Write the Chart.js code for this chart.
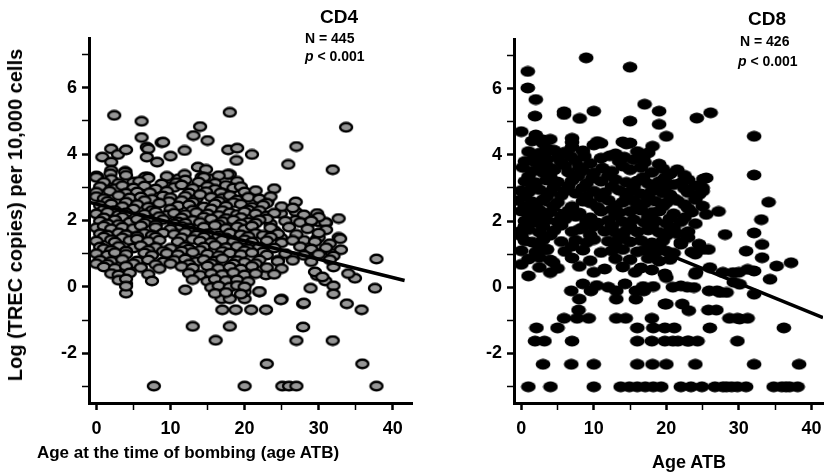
<!DOCTYPE html>
<html><head><meta charset="utf-8">
<script src="https://cdn.jsdelivr.net/npm/chart.js@4/dist/chart.umd.min.js"></script>
<style>
html,body{margin:0;padding:0;background:#fff;width:831px;height:472px;overflow:hidden;}
#wrap{position:relative;width:831px;height:472px;}
canvas{position:absolute;top:0;}
#c1{left:0;}
#c2{left:420px;}
.t{position:absolute;font-family:"Liberation Sans",Arial,sans-serif;font-weight:bold;color:#000;white-space:nowrap;line-height:1;}
</style></head>
<body><div id="wrap">
<canvas id="c1" width="420" height="472"></canvas>
<canvas id="c2" width="411" height="472"></canvas>
<div class="t" style="left:15px;top:215px;font-size:20px;transform:translate(-50%,-50%) rotate(-90deg);">Log (TREC copies) per 10,000 cells</div>
<div class="t" style="left:188px;top:444px;font-size:17px;transform:translateX(-50%);">Age at the time of bombing (age ATB)</div>
<div class="t" style="left:689px;top:453px;font-size:18px;transform:translateX(-50%);">Age ATB</div>
<div class="t" style="left:339px;top:7px;font-size:19px;transform:translateX(-50%);">CD4</div>
<div class="t" style="left:305px;top:31px;font-size:14px;">N = 445</div>
<div class="t" style="left:305px;top:49px;font-size:14px;"><i>p</i> &lt; 0.001</div>
<div class="t" style="left:767px;top:9px;font-size:19px;transform:translateX(-50%);">CD8</div>
<div class="t" style="left:740px;top:34px;font-size:14px;">N = 426</div>
<div class="t" style="left:738px;top:54px;font-size:14px;"><i>p</i> &lt; 0.001</div>
</div>
<script>
// ---- data ----
const xTickValues = [0,5,10,15,20,25,30,35,40];
const xTickLabels = ['0','','10','','20','','30','','40'];
const yTickValues = [-3,-2,-1,0,1,2,3,4,5,6,7];
const yTickLabels = ['','-2','','0','','2','','4','','6',''];

const cd4Fit = [[-1,2.55],[41.6,0.19]];
const cd8Fit = [[-1,2.89],[41.6,-0.92]];

const cd4Points = [
[2.4,5.17],[6.1,4.99],[6.1,4.5],[6.8,4.21],[8.8,4.35],[10,3.94],[11.9,4.11],[13.1,4.56],[14,4.83],[15,4.41],
[18,5.26],[17.8,4.13],[19,4.18],[18.9,3.81],[21,3.99],[25.9,3.69],[27,4.23],[33.7,4.81],[31.9,3.53],[24,2.96],
[26.9,2.56],[32.7,2.06],[30,1.96],[31,1.93],[32.7,1.49],[18,3.39],[0.8,3.91],[2,4.16],[2.9,3.99],[4,4.13],
[2,3.76],[2,3.51],[0,3.34],[3.9,3.48],[6.9,3.31],[7,4.16],[6.8,3.91],[8.2,3.76],[9,4.36],
[0.1,3.31],[1.9,3.41],[2.1,3.16],[3.9,3.46],[5,3.16],[6.6,3.31],[9.9,3.26],[11.1,3.26],[11.9,3.39],[13.7,3.61],
[14.8,3.54],[14.2,3.31],[15.3,3.26],[17.7,3.39],[18.2,3.01],
[21.3,2.76],[23.1,2.58],[24.9,2.21],[26.9,2.26],[29.8,2.21],[30.9,1.94],[28.3,2.01],[28.9,1.96],[26.9,2.01],[23.5,1.9],
[24,1.7],[29.8,1.45],[32.9,1.45],[26.9,1.42],[28,1.4],[24.9,1.48],
[37.8,0.84],[37.6,-0.04],[30,1.49],[34.9,0.26],[35.8,-0.69],[33.8,-0.51],[35.9,-2.32],[37.8,-2.99],[31.9,-1.62],
[28.9,-0.04],[29.8,0.34],[30.9,0.18],[32,0.03],[32,-0.21],[27.9,-0.51],[27.9,-1.21],[27,-1.62],[25,-0.37],
[25.1,-2.99],[26,-2.99],[27,-2.99],[23,-2.32],[20,-2.99],[7.75,-2.99],[13,-1.19],[18,-1.19],[16.1,-1.61],[12,-0.09],
[4,-0.19],[4,0.1],[17,-0.69],[18.8,-0.69],[20.9,-0.69],[22.9,-0.69],[16.9,-0.36],[18,-0.36],[20,-0.36],[22,-0.15],
[22.9,0.36],[20,-0.15],[22,-0.14],[24.9,-0.39],[28,-0.49],[28.5,0.96],[29.8,1.01],[31.8,1.01],[32,0.6],[34,0.4],
[29.5,0.45],[30.5,0.3],[22.9,1.0],[24.5,0.8],[26.5,0.9],
[0,3.3],[2,3.24],[4,3.36],[7,3.28],[9.5,3.33],[12,3.22],[14.5,3.3],[16.5,3.35],
[1,3.15],[3,3.12],[5.8,3.18],[8.8,3.1],[10.8,3.14],[13.8,3.16],[16,3.12],[19,3.18],
[0.5,3.02],[2.5,2.96],[3.5,3.05],[5,2.98],[6.5,3.04],[8,2.95],[10.5,3.0],[11.5,3.07],[13,2.97],[15,3.03],[16,2.94],[17.5,3.06],[18.5,2.98],[19.5,3.02],
[0,2.85],[1.8,2.88],[4,2.82],[5.5,2.86],[7.2,2.84],[9.5,2.88],[12.5,2.83],[14.8,2.87],[16.8,2.84],[20,2.86],[21.5,2.9],
[0,2.72],[1,2.66],[3,2.75],[4.5,2.68],[6,2.71],[7.5,2.64],[9,2.74],[10,2.69],[12,2.73],[13.5,2.65],[14,2.78],[15.5,2.7],[17,2.67],[18,2.75],[19,2.62],[20.5,2.7],[22,2.65],[23.5,2.72],
[1.5,2.58],[4,2.55],[6.5,2.6],[9.8,2.57],[11.5,2.6],[13,2.55],[16.5,2.58],[18.5,2.54],[23,2.52],
[0.5,2.45],[2,2.5],[3.5,2.42],[5.5,2.48],[7,2.4],[8.5,2.52],[11,2.44],[12.5,2.47],[14.5,2.41],[16,2.5],[17.5,2.43],[19.5,2.49],[21,2.4],[22.5,2.46],[25,2.42],[26.5,2.38],
[1,2.33],[2.5,2.3],[5,2.35],[7.5,2.3],[10,2.34],[13,2.31],[15.5,2.35],[17,2.3],[20.5,2.32],[22,2.3],
[0,2.2],[1.5,2.25],[3,2.17],[4,2.23],[6.5,2.19],[8,2.26],[9.5,2.16],[10.5,2.22],[12,2.18],[13.5,2.24],[15,2.2],[16.5,2.15],[18,2.23],[19,2.18],[20,2.26],[21.5,2.2],[23,2.14],[24,2.22],[28,2.17],[30,2.1],
[1,2.08],[3.5,2.1],[6,2.06],[8.5,2.12],[11.5,2.08],[14.5,2.1],[17.5,2.06],[19.5,2.09],[23,2.05],
[0.5,1.98],[2.5,2.02],[4.5,1.95],[5.5,2.04],[7,1.99],[9,2.03],[11,1.96],[13,2.0],[14,1.94],[15.5,2.05],[17,1.97],[18.5,2.01],[20.5,1.95],[22,2.02],[25.5,1.98],[27.5,1.94],[29,1.99],
[1.5,1.9],[3,1.88],[6.5,1.92],[8,1.87],[10.5,1.9],[12,1.92],[16.5,1.88],[19.5,1.9],[21.5,1.92],
[0,1.78],[1,1.83],[2,1.75],[3.5,1.8],[5,1.76],[6,1.84],[8,1.79],[10,1.74],[11.5,1.82],[12.5,1.77],[14.5,1.8],[16,1.85],[17.5,1.76],[19,1.81],[20,1.74],[21,1.83],[23.5,1.78],[26,1.8],[28.5,1.75],[31,1.72],
[0.5,1.6],[1.5,1.56],[3,1.63],[4,1.57],[6.5,1.61],[7.5,1.55],[9,1.62],[10.5,1.58],[12,1.64],[13.5,1.56],[15,1.6],[16.5,1.54],[18,1.62],[19.5,1.57],[21.5,1.61],[22.5,1.55],[24.5,1.6],[27,1.58],[30,1.62],
[1,1.5],[3.5,1.48],[5.5,1.52],[8,1.5],[11.5,1.48],[14.5,1.5],[17.5,1.47],[20.5,1.52],[23.5,1.5],
[0,1.38],[2,1.42],[2.5,1.35],[4.5,1.4],[5.5,1.44],[7,1.37],[8.5,1.41],[11,1.36],[13,1.43],[14,1.38],[15.5,1.34],[17,1.41],[18.5,1.37],[20,1.42],[21,1.35],[23,1.39],[25,1.33],[26.5,1.4],[29.5,1.36],[31.5,1.3],
[0.5,1.2],[1,1.15],[3,1.22],[5,1.17],[6,1.24],[8,1.19],[10,1.16],[12,1.21],[12.5,1.14],[14.5,1.2],[16,1.25],[17.5,1.18],[19,1.22],[20.5,1.15],[22,1.2],[24,1.17],[27.5,1.21],[29,1.14],[31,1.18],[33,1.12],
[2,1.1],[4,1.08],[7,1.1],[9,1.07],[11.5,1.08],[14,1.1],[17,1.07],[20,1.09],[22.5,1.05],
[0,1.0],[1.5,0.96],[2.5,1.03],[4,0.98],[6.5,1.02],[7.5,0.95],[9.5,1.01],[11,0.97],[13,1.04],[15,0.99],[16.5,0.94],[18,1.02],[19.5,0.97],[21,1.03],[23,0.96],[25.5,1.0],[28,0.95],[30,0.98],[32,0.93],
[0.5,0.8],[2,0.77],[3.5,0.83],[5.5,0.78],[7,0.81],[9,0.75],[10.5,0.8],[12,0.84],[13.5,0.76],[14.5,0.82],[16,0.78],[17,0.85],[19,0.79],[20,0.74],[22,0.81],[24.5,0.77],[26.5,0.8],[29,0.76],[31.5,0.82],
[0,0.7],[1.5,0.68],[5,0.7],[8,0.67],[10,0.7],[12.5,0.68],[15.5,0.7],[18.5,0.69],[21.5,0.7],
[1,0.6],[2.5,0.56],[4,0.62],[6,0.58],[8.5,0.55],[11.5,0.61],[13,0.57],[15,0.63],[16.5,0.56],[18,0.6],[19.5,0.54],[21,0.62],[23,0.58],[25,0.55],
[2,0.4],[3,0.36],[4.5,0.42],[7,0.38],[12.5,0.41],[14,0.35],[15.5,0.4],[17,0.37],[18.5,0.43],[20,0.36],[21.5,0.4],[24,0.38],
[3,0.2],[4,0.24],[7.5,0.18],[13,0.22],[15,0.17],[16,0.23],[17.5,0.19],[19,0.21],[20.5,0.16],
[4,0.02],[15.5,-0.02],[16.5,0.03],[18,-0.01],[19,0.04],[20,0.0],
[16,-0.2],[17.5,-0.17],[19.5,-0.22]
];

const cd8Points = [
[8.95,6.93],[15,6.65],[0.9,6.52],[0.9,6.02],[2,5.67],[1.9,5.17],[5.9,5.3],[5.9,5.22],[8.05,5.1],[10,5.32],
[15,5.02],[17,5.53],[19,5.32],[19,4.92],[20,4.56],[24.2,5.11],[26.1,5.27],[32.1,4.56],[32.1,3.39],[34.1,2.57],
[33.1,2.04],[32.1,1.64],[0,4.7],[7,4.5],[7,4.24],[10,4.3],[11,4.35],[14,4.39],[15,4.36],[18.1,4.26],
[8.7,3.96],[25.1,3.27],[25,2.9],[27.2,2.29],[2,4.6],[3,4.45],[3.5,4.2],
[0.98,-3.01],[4.03,-3.01],[10,-3.01],[13.7,-3.01],[14.9,-3.01],[16,-3.01],[17.1,-3.01],[18.2,-3.01],[19.3,-3.01],[22,-3.01],
[23.4,-3.01],[24.9,-3.01],[26.7,-3.01],[27.8,-3.01],[29,-3.01],[29.8,-3.01],[31,-3.01],[34.8,-3.01],[35.9,-3.01],[37,-3.01],
[38.1,-3.01],[28.3,-3.01],[36.5,-3.01],
[3,-2.33],[6.9,-2.33],[10,-2.33],[16,-2.33],[18.1,-2.33],[20,-2.33],[24,-2.33],[32.1,-2.33],[38.3,-2.33],
[1.9,-1.63],[3.2,-1.63],[7,-1.63],[16,-1.63],[18,-1.63],[19.8,-1.63],[20.9,-1.63],[22.9,-1.63],[24.3,-1.63],[29.8,-1.63],[21.6,-1.63],[23.1,-1.63],
[2.1,-1.23],[5,-1.23],[16,-1.23],[18.2,-1.23],[19.8,-1.23],[21.1,-1.23],[26,-1.23],[36.2,-1.23],
[5.9,-0.94],[7.7,-0.94],[9.3,-0.94],[13.1,-0.94],[14.4,-0.94],[18,-0.94],[28.7,-0.94],[29.8,-0.94],[31.2,-0.94],[30.1,-0.96],
[7.9,-0.69],[25.8,-0.69],[26.9,-0.69],[20,-0.51],[22.2,-0.51],[23.1,-0.71],[19.8,-0.51],
[8,-0.36],[13.1,-0.36],[15.8,-0.36],
[6.9,-0.11],[9.6,-0.11],[13.1,-0.11],[15.8,-0.11],[16.9,-0.11],[25.9,-0.11],[27,-0.11],[32.1,-0.21],[27.4,-0.16],[28.3,-0.16],
[8.5,0.1],[10.4,0.05],[12,0.0],[14.3,0.1],[16.8,0.02],[18.2,0.02],[20.9,0.0],[22.9,0.0],[29.3,0.15],[30.1,0.09],[22,0.04],[23.8,-0.01],
[10,0.45],[15.7,0.45],[19.8,0.4],[24.1,0.45],[27.8,0.45],[30,0.45],[29.2,0.44],[24,0.39],
[35.2,0.64],[37.2,0.74],[34.3,0.24],[32.1,0.49],[31,1.09],[33.2,1.29],[33.2,0.89],[28.1,1.59],[25.8,1.14],[24.9,1.14],
[0,0.69],[1,0.34],[4,0.44],[2.5,0.9],[3.5,1.15],[4.4,0.75],[31.2,0.54],[26,0.59],[20,0.29],[22,1.3],[23,1.5],[24,1.0],
[1.5,4.42],[3,4.35],[4,4.47],[7,4.38],[10.5,4.4],[14.5,4.33],
[1,4.1],[2.5,4.05],[4.5,4.14],[6,4.08],[8.5,4.12],[13,4.03],[16,4.1],[17.5,4.06],
[1.8,3.95],[3.2,3.98],[5,3.92],[6.8,3.96],[11,3.9],[12.2,3.97],[14.2,3.93],[16.8,3.9],
[0.5,3.8],[2,3.76],[3.5,3.84],[5.5,3.78],[7.5,3.82],[9.5,3.74],[13.5,3.8],[15.5,3.85],[17,3.77],[19,3.72],
[0.2,3.62],[2.7,3.66],[4,3.6],[6,3.68],[8,3.63],[11.2,3.6],[14,3.66],[16.5,3.62],[19.5,3.58],[21.5,3.55],
[1.5,3.5],[3,3.46],[4.5,3.54],[6.5,3.48],[8.5,3.52],[10,3.45],[12.5,3.5],[15,3.55],[18,3.47],[20.5,3.42],[22.5,3.38],[25.5,3.3],
[1,3.35],[4,3.33],[7.8,3.36],[9.8,3.3],[12,3.37],[16.8,3.32],[19.8,3.3],[23,3.25],
[0.5,3.2],[2,3.16],[3.5,3.24],[5,3.18],[7,3.22],[9,3.14],[11,3.2],[13,3.25],[14.5,3.17],[16,3.21],[17.5,3.13],[19,3.19],[21,3.1],[22,3.15],[24,3.06],[25,3.0],
[1.5,3.05],[4.5,3.02],[6.5,3.06],[8.5,3.0],[12.5,3.04],[15.5,3.03],[18.5,3.0],[20,3.05],[22.5,2.98],
[0,2.92],[1,2.87],[2.5,2.95],[4,2.88],[6,2.91],[7.5,2.84],[10,2.9],[11.5,2.86],[13.5,2.93],[15,2.88],[16.5,2.82],[18,2.9],[19.5,2.85],[20.5,2.79],[23,2.86],[24.5,2.8],
[0.5,2.75],[3.5,2.73],[5.5,2.77],[9,2.74],[11,2.72],[14.5,2.76],[17.5,2.7],[21,2.68],[24,2.65],
[-0.5,2.62],[1.5,2.58],[3,2.64],[5,2.56],[8.5,2.6],[9.5,2.55],[12,2.63],[14,2.57],[15.5,2.61],[17,2.54],[18.5,2.6],[20,2.55],[21.5,2.62],[22.5,2.5],[25,2.45],
[0.5,2.45],[2,2.43],[4.5,2.47],[7,2.44],[10.5,2.42],[13,2.46],[16,2.4],[19.5,2.44],[23,2.38],
[0,2.3],[1,2.26],[2.5,2.33],[4,2.27],[6.5,2.31],[8,2.24],[11,2.3],[12.5,2.35],[13.5,2.25],[15,2.29],[16.5,2.33],[18,2.26],[19,2.3],[21,2.22],[23.5,2.27],[25.5,2.2],
[1.5,2.15],[3,2.12],[5.5,2.17],[7.5,2.14],[9.5,2.1],[13,2.16],[17.5,2.12],[20.5,2.08],[22.5,2.1],
[0.5,2.0],[2,1.96],[3.5,2.03],[5,1.97],[6,2.05],[9,1.99],[10.5,1.94],[12,2.02],[14,1.98],[15.5,2.04],[17,1.95],[18.5,2.0],[20,1.93],[22,1.98],[24,1.92],
[0.5,1.85],[3,1.83],[5.5,1.87],[8.5,1.8],[10,1.84],[12.5,1.86],[15,1.82],[18,1.85],[21,1.8],
[0,1.7],[1,1.74],[2.5,1.66],[4.5,1.71],[7,1.68],[8,1.75],[11.5,1.69],[13,1.65],[14.5,1.72],[16,1.67],[17.5,1.73],[19,1.66],[20.5,1.7],[21.5,1.62],[23,1.68],
[0,1.55],[4,1.57],[9.5,1.58],[14,1.55],[20,1.56],
[0.5,1.4],[1.5,1.36],[3,1.43],[5.5,1.38],[7.5,1.42],[9,1.35],[10,1.44],[12,1.39],[13.5,1.45],[15,1.37],[16.5,1.41],[18,1.34],[19.5,1.4],[22,1.36],[24.5,1.3],
[2.5,1.22],[7,1.24],[13,1.26],[19,1.25],
[0,1.1],[2,1.06],[3.5,1.13],[6,1.08],[8.5,1.12],[11,1.05],[12.5,1.1],[14,1.14],[16,1.07],[17,1.12],[18.5,1.04],[20,1.09],[21,1.03],[23.5,1.06],
[1,0.85],[4,0.82],[7,0.88],[9.5,0.8],[13,0.86],[15,0.83],[17.5,0.87],[19,0.79],[20.5,0.84],
[2.5,0.6],[5,0.57],[8,0.63],[11.5,0.55],[14,0.61],[16.5,0.58],[18,0.52]
];

// ---- rendering ----
function makeMarker(w, h, rx, ry, fill, stroke, lw) {
  const c = document.createElement('canvas');
  c.width = w; c.height = h;
  const g = c.getContext('2d');
  g.beginPath();
  g.ellipse(w / 2, h / 2, rx, ry, 0, 0, Math.PI * 2);
  g.fillStyle = fill; g.fill();
  if (stroke) { g.lineWidth = lw; g.strokeStyle = stroke; g.stroke(); }
  return c;
}
const FONT = '"Liberation Sans", Arial, sans-serif';
const toXY = arr => arr.map(p => ({x: p[0], y: p[1]}));

function build(canvasId, points, fit, marker, cfg) {
  return new Chart(document.getElementById(canvasId), {
    data: {
      datasets: [
        {type: 'line', data: toXY(fit), borderColor: '#000', borderWidth: 3.5, pointRadius: 0, fill: false, order: 0},
        {type: 'scatter', data: toXY(points), pointStyle: marker, pointRadius: 7, order: 1}
      ]
    },
    options: {
      responsive: false, animation: false,
      layout: {padding: {left: 0, top: cfg.top, right: cfg.right, bottom: 0}},
      plugins: {legend: {display: false}, tooltip: {enabled: false}},
      scales: {
        x: {
          type: 'linear', min: cfg.xMin, max: cfg.xMax,
          afterBuildTicks: s => { s.ticks = xTickValues.map(v => ({value: v})); },
          afterFit: s => { s.height = cfg.xH; },
          ticks: {autoSkip: false, maxRotation: 0, padding: 8, color: '#000',
                  font: {family: FONT, size: 18, weight: 'bold'},
                  callback: (v, i) => xTickLabels[i]},
          grid: {drawOnChartArea: false, drawTicks: true, tickLength: 7, tickColor: '#000',
                 tickWidth: c => (xTickLabels[c.index] ? 2.5 : 1.5)},
          border: {display: true, color: '#000', width: 3}
        },
        y: {
          type: 'linear', min: -3.5, max: 7.5,
          afterBuildTicks: s => { s.ticks = yTickValues.map(v => ({value: v})); },
          afterFit: s => { s.width = cfg.yW; },
          ticks: {autoSkip: false, padding: 5, color: '#000',
                  font: {family: FONT, size: 18, weight: 'bold'},
                  callback: (v, i) => yTickLabels[i]},
          grid: {drawOnChartArea: false, drawTicks: true, tickLength: 7, tickColor: '#000',
                 tickWidth: c => (yTickLabels[c.index] ? 2.5 : 1.5)},
          border: {display: true, color: '#000', width: 3}
        }
      }
    }
  });
}

const grayMarker = makeMarker(16, 12, 6, 4.2, '#969696', '#000', 2.4);
const blackMarker = makeMarker(16, 12, 7.4, 5.4, '#000', null, 0);

build('c1', cd4Points, cd4Fit, grayMarker, {top: 38, right: 5, xMin: -1, xMax: 42.6, xH: 69, yW: 89});
build('c2', cd8Points, cd8Fit, blackMarker, {top: 39, right: 0, xMin: -1, xMax: 41.6, xH: 69, yW: 94});
</script>
</body></html>
